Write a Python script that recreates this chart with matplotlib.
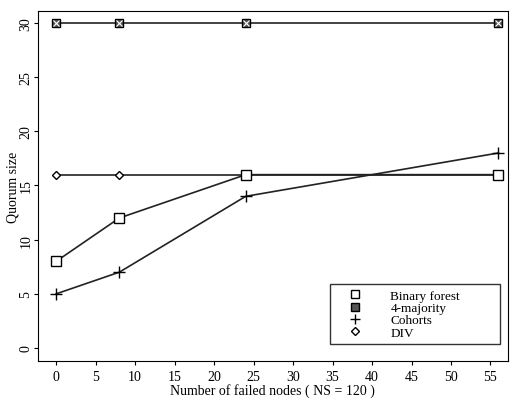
import numpy as np
import matplotlib.pyplot as plt
from matplotlib.lines import Line2D

# data
failed_nodes = [0, 8, 24, 56]
binary_forest = [8, 12, 16, 16]
four_majority = [30, 30, 30, 30]
cohorts = [5, 7, 14, 18]
div = [16, 16, 16, 16]

plt.rcParams['font.family'] = 'serif'
plt.rcParams['font.serif'] = ['Liberation Serif', 'Times New Roman', 'DejaVu Serif']

fig = plt.figure(figsize=(5.14, 4.02), dpi=100)
ax = fig.add_axes([0.074, 0.0995, 0.914, 0.8705])

lc = '#222222'
ax.plot(failed_nodes, four_majority, color=lc, lw=1.2, marker='s', ms=6,
        mfc='#555555', mec='black', mew=1.0)
ax.plot(failed_nodes, four_majority, ls='none', marker='x', ms=4, mec='white', mew=0.8)
ax.plot(failed_nodes, div, color=lc, lw=1.2, marker='D', ms=4.5, mfc='white', mec='black', mew=1.0)
ax.plot(failed_nodes, binary_forest, color=lc, lw=1.2, marker='s', ms=7, mfc='white', mec='black', mew=1.0)
ax.plot(failed_nodes, cohorts, color=lc, lw=1.2, marker='+', ms=8, mec='black', mew=1.0)

ax.set_xlim(-2.3, 57.2)
ax.set_ylim(-1.2, 31.1)
ax.set_xticks(range(0, 56, 5))
ax.set_yticks(range(0, 31, 5))
ax.tick_params(direction='out', length=3, labelsize=10)
ax.tick_params(axis='y', pad=1)
for lab in ax.get_yticklabels():
    lab.set_rotation(90)
    lab.set_va('center')
ax.set_xlabel('Number of failed nodes ( NS = 120 )', fontsize=10, labelpad=0)
ax.set_ylabel('Quorum size', fontsize=10, labelpad=0)

handles = [
    Line2D([], [], ls='none', marker='s', ms=6, mfc='white', mec='black'),
    Line2D([], [], ls='none', marker='s', ms=6, mfc='#555555', mec='black'),
    Line2D([], [], ls='none', marker='+', ms=7, mec='black'),
    Line2D([], [], ls='none', marker='D', ms=4.5, mfc='white', mec='black'),
]
labels = ['Binary forest', '4-majority', 'Cohorts', 'DIV']
leg = ax.legend(handles, labels, loc='lower left', bbox_to_anchor=(0.621, 0.0486, 0.362, 0.17),
                mode='expand', fontsize=9.5, frameon=True, fancybox=False, edgecolor='black',
                labelspacing=0, handletextpad=1.2, borderpad=0.4, handlelength=3.0,
                borderaxespad=0)
leg.get_frame().set_linewidth(1.0)

plt.savefig('out.png', dpi=100)
